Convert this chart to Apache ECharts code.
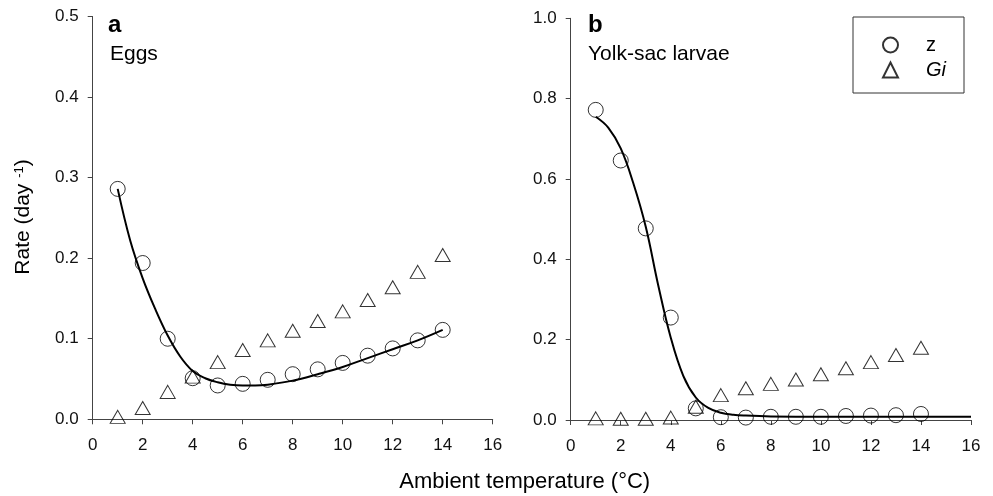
<!DOCTYPE html>
<html><head><meta charset="utf-8">
<script src="https://cdn.jsdelivr.net/npm/echarts@6/dist/echarts.min.js"></script>
<style>html,body{margin:0;padding:0;background:#fff}#c{width:993px;height:496px}</style>
</head><body><div id="c"></div>
<script>
const temps = [1,2,3,4,5,6,7,8,9,10,11,12,13,14];
const eggsZ = [0.286,0.194,0.100,0.051,0.042,0.044,0.049,0.056,0.062,0.070,0.079,0.088,0.098,0.111];
const eggsGi = [0.003,0.014,0.034,0.053,0.071,0.086,0.098,0.110,0.122,0.134,0.148,0.164,0.183,0.204];
const larvaeZ = [0.772,0.646,0.477,0.255,0.029,0.007,0.006,0.008,0.008,0.008,0.010,0.011,0.012,0.015];
const larvaeGi = [0.004,0.003,0.003,0.006,0.033,0.062,0.079,0.090,0.101,0.114,0.129,0.144,0.162,0.180];
const eggsFitX = [1,1.5,2,2.5,3,3.5,4,4.5,5,5.5,6,6.5,7,8,9,10,11,12,13,14];
const eggsFitY = [0.286,0.222,0.175,0.137,0.104,0.078,0.060,0.051,0.046,0.043,0.042,0.042,0.043,0.048,0.056,0.065,0.076,0.087,0.098,0.111];
const larvaeFitX = [1,1.5,2,2.5,3,3.5,4,4.5,5,5.5,6,6.5,7,8,10,12,14,16];
const larvaeFitY = [0.755,0.728,0.676,0.590,0.481,0.335,0.205,0.110,0.056,0.030,0.018,0.013,0.011,0.009,0.008,0.008,0.008,0.008];
const xTicks = {min:0, max:16, interval:2};
const yTicksA = {min:0, max:0.5, interval:0.1};
const yTicksB = {min:0, max:1.0, interval:0.2};

const FONT = '"Liberation Sans", Arial, sans-serif';
const zip = (xs, ys) => xs.map((x,i)=>[x, ys[i]]);
const axisCol = '#444';

function xAxis(gi){
  return {gridIndex:gi, type:'value', min:xTicks.min, max:xTicks.max, interval:xTicks.interval,
    axisLine:{show:true, onZero:false, lineStyle:{color:axisCol,width:1}},
    axisTick:{show:true, length:5, lineStyle:{color:axisCol,width:1}},
    axisLabel:{fontSize:17, color:'#111', margin:18, fontFamily:FONT},
    splitLine:{show:false}};
}
function yAxis(gi, t){
  return {gridIndex:gi, type:'value', min:t.min, max:t.max, interval:t.interval,
    axisLine:{show:true, onZero:false, lineStyle:{color:axisCol,width:1}},
    axisTick:{show:true, length:5, lineStyle:{color:axisCol,width:1}},
    axisLabel:{fontSize:17, color:'#111', margin:14, fontFamily:FONT, formatter:v=>v.toFixed(1)},
    splitLine:{show:false}};
}
const circleStyle = {color:'rgba(0,0,0,0)', borderColor:'#000', borderWidth:1};
const triStyle = {color:'rgba(0,0,0,0)', borderColor:'#000', borderWidth:1};
function scatter(name, gi, data, sym){
  return {name, type:'scatter', xAxisIndex:gi, yAxisIndex:gi, data,
    symbol: sym, symbolSize: sym==='circle'?15:[15,13],
    itemStyle: sym==='circle'?circleStyle:triStyle, z:3, silent:true};
}
function fit(gi, data){
  return {name:'fit'+gi, type:'line', xAxisIndex:gi, yAxisIndex:gi, data, smooth:0.4,
    showSymbol:false, lineStyle:{color:'#000', width:2}, z:2, silent:true};
}

const chart = echarts.init(document.getElementById('c'), null, {renderer:'canvas'});
chart.setOption({
  animation:false,
  backgroundColor:'#fff',
  textStyle:{fontFamily:FONT},
  grid:[
    {left:92.7, top:16.5, width:400, height:402.8},
    {left:570.7, top:18.3, width:400.3, height:401.7}
  ],
  xAxis:[xAxis(0), xAxis(1)],
  yAxis:[yAxis(0, yTicksA), yAxis(1, yTicksB)],
  legend:{
    data:['z','Gi'], orient:'vertical', left:853, top:17,
    padding:[18,18,13,29], itemWidth:15, itemHeight:15, itemGap:5,
    borderColor:'#333', borderWidth:1, selectedMode:false,
    formatter: n => n==='Gi' ? '{i|Gi}' : '{n|z}',
    textStyle:{rich:{
      n:{fontSize:20, fontFamily:FONT, color:'#000', padding:[0,0,0,23], lineHeight:15},
      i:{fontSize:20, fontFamily:FONT, fontStyle:'italic', color:'#000', padding:[0,0,0,23], lineHeight:15}
    }}
  },
  series:[
    fit(0, zip(eggsFitX, eggsFitY)),
    scatter('z', 0, zip(temps, eggsZ), 'circle'),
    scatter('Gi', 0, zip(temps, eggsGi), 'triangle'),
    fit(1, zip(larvaeFitX, larvaeFitY)),
    scatter('z', 1, zip(temps, larvaeZ), 'circle'),
    scatter('Gi', 1, zip(temps, larvaeGi), 'triangle')
  ],
  graphic:[
    {type:'text', left:108, top:13, style:{text:'a', font:'bold 24px '+FONT, fill:'#000'}},
    {type:'text', left:110, top:44, style:{text:'Eggs', font:'21px '+FONT, fill:'#000'}},
    {type:'text', left:588, top:13, style:{text:'b', font:'bold 24px '+FONT, fill:'#000'}},
    {type:'text', left:588, top:44, style:{text:'Yolk-sac larvae', font:'21px '+FONT, fill:'#000'}},
    {type:'text', x:524.7, y:482, style:{text:'Ambient temperature (°C)', font:'22px '+FONT, fill:'#000', align:'center', verticalAlign:'middle'}},
    {type:'text', x:23, y:217, rotation:Math.PI/2, style:{
      text:'{n|Rate (day }{s|-1}{n|)}', align:'center', verticalAlign:'middle',
      rich:{n:{fontSize:21, fontFamily:FONT, color:'#000'}, s:{fontSize:13, fontFamily:FONT, color:'#000', verticalAlign:'top', padding:[0,0,8,0]}}
    }}
  ]
});
</script></body></html>
